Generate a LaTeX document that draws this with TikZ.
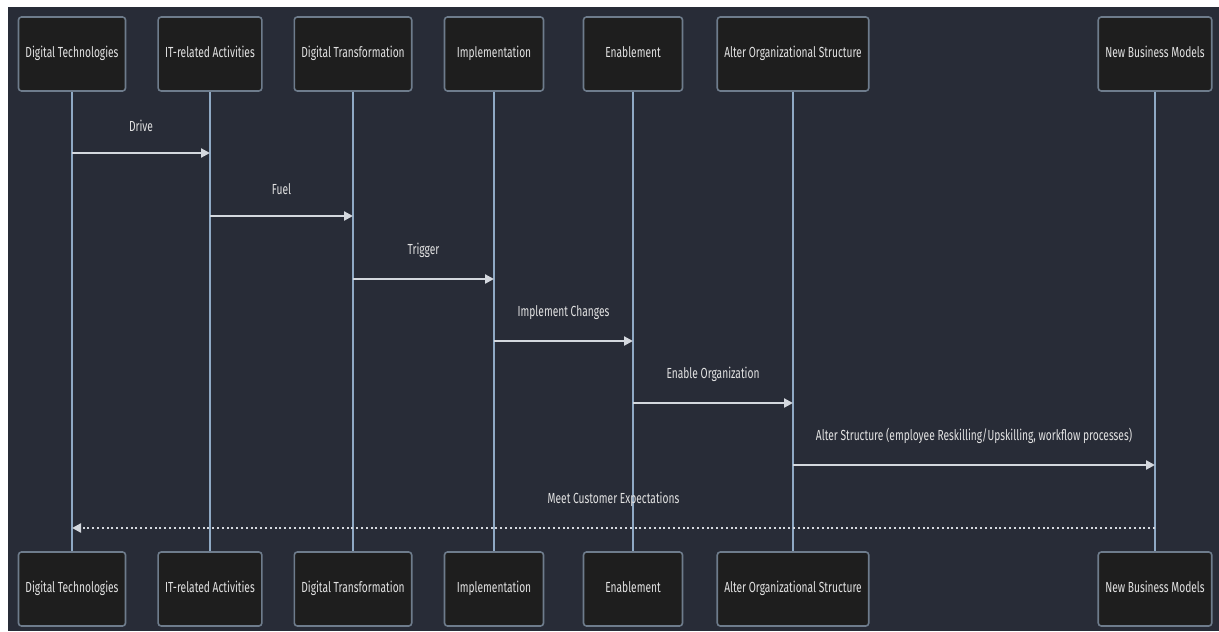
\documentclass[tikz,border=0pt]{standalone}
\usepackage{fontspec}
\setmainfont{Fira Sans}[FakeStretch=0.7]
\usetikzlibrary{arrows.meta}
\definecolor{bgslate}{HTML}{282C37}
\definecolor{boxfill}{HTML}{1E1E1E}
\definecolor{boxline}{HTML}{6E7C8C}
\definecolor{lifeblue}{HTML}{8FA9C4}
\definecolor{msggrey}{HTML}{D4D8DE}
\definecolor{txtgrey}{HTML}{E2E2E2}
\tikzset{
  actor/.style={draw=boxline,line width=0.8pt,fill=boxfill,rounded corners=1.5pt,
    minimum height=37pt,minimum width=49.5pt,inner xsep=3.5pt,
    text height=5.4pt,text depth=1.6pt,
    text=txtgrey,font=\fontsize{7.3}{8}\selectfont},
  lifeline/.style={draw=lifeblue,line width=0.7pt},
  msg/.style={draw=msggrey,line width=1.1pt,-{Triangle[length=4.5pt,width=4.5pt]}},
  reply/.style={draw=msggrey,line width=1.1pt,dash pattern=on 1pt off 1.4pt,
    -{Triangle[length=4.5pt,width=4.5pt]}},
  msglabel/.style={text=txtgrey,font=\fontsize{7.3}{8}\selectfont,inner sep=1pt},
}
\begin{document}
\begin{tikzpicture}[x=0.5pt,y=-0.5pt]
    % --- sfondo ---
    \useasboundingbox (0,0) rectangle (1219,631);
    \fill[white] (0,0) rectangle (1219,631);
    \fill[bgslate] (8,7) rectangle (1219,631);
    % --- partecipanti (in alto e in basso) ---
    \foreach \n/\x/\t in {%
        dt/72/Digital Technologies, it/210/IT-related Activities,
        tr/353/Digital Transformation, im/494/Implementation,
        en/633/Enablement, ao/793/Alter Organizational Structure,
        nb/1155/New Business Models}{
      \node[actor] (\n top) at (\x,54) {\t};
      \node[actor] (\n bot) at (\x,589) {\t};
      \draw[lifeline] (\n top) -- (\n bot);
    }
    % --- messaggi ---
    \foreach \a/\b/\y/\t in {%
        dt/it/153/Drive, it/tr/216/Fuel, tr/im/279/Trigger,
        im/en/341/Implement Changes, en/ao/403/Enable Organization,
        ao/nb/465/{Alter Structure (employee Reskilling/Upskilling, workflow processes)}}{
      \draw[msg] (\a top |- 0,\y) -- (\b top |- 0,\y)
        node[msglabel,midway,above=9pt] (\a lab) {\t};
    }
    % --- risposta ---
    \draw[reply] (nbtop |- 0,528) -- (dttop |- 0,528)
      node[msglabel,midway,above=9pt] (nblab) {Meet Customer Expectations};
\end{tikzpicture}
\end{document}
